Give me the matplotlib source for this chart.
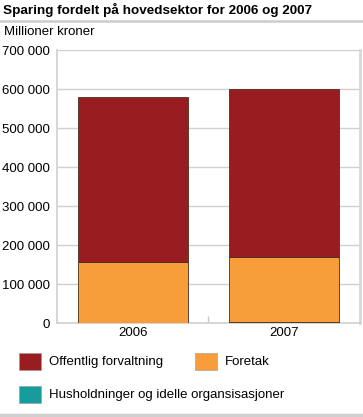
import matplotlib
matplotlib.use('Agg')
import matplotlib.pyplot as plt
from matplotlib.patches import Rectangle
from matplotlib.ticker import FuncFormatter, FixedLocator
import numpy as np

plt.rcParams['font.family'] = ['Liberation Sans', 'DejaVu Sans']

# data (millioner kroner)
years = ['2006', '2007']
offentlig = [423000, 431000]
foretak = [158000, 166000]
husholdninger = [0, 4000]
labels = ['Offentlig forvaltning', 'Foretak', 'Husholdninger og idelle organsisasjoner']
colors = ['#991c20', '#f79d3a', '#169c9c']

fig = plt.figure(figsize=(3.63, 4.17), dpi=100)
ax = fig.add_axes([57.3 / 363, 1 - 323.3 / 417, 302.4 / 363, 273.0 / 417])

x = np.arange(len(years))
w = 0.725
edge = '#4a3020'
hh = np.array(husholdninger)
fo = np.array(foretak)
of = np.array(offentlig)
ax.bar(x, hh, w, color=colors[2], edgecolor=edge, linewidth=0.6, zorder=3)
ax.bar(x, fo, w, bottom=hh, color=colors[1], edgecolor=edge, linewidth=0.6, zorder=3)
ax.bar(x, of, w, bottom=hh + fo, color=colors[0], edgecolor=edge, linewidth=0.6, zorder=3)

ax.set_xlim(-0.5, len(years) - 0.5)
ax.set_ylim(0, 700000)
ax.set_yticks(np.arange(0, 700001, 100000))
ax.yaxis.set_major_formatter(FuncFormatter(lambda v, p: f'{int(v):,}'.replace(',', ' ')))
ax.set_xticks(x)
ax.set_xticklabels(years)
ax.xaxis.set_minor_locator(FixedLocator([0.5]))
ax.tick_params(axis='both', which='major', length=0, labelsize=9.5, colors='black')
ax.tick_params(axis='y', pad=5)
ax.tick_params(axis='x', pad=3)
ax.tick_params(axis='x', which='minor', direction='in', length=5, color='#c8c8c8', width=1)
ax.grid(axis='y', color='#d0d0d0', linewidth=1, zorder=0)
ax.set_axisbelow(True)
for s in ['left', 'bottom']:
    ax.spines[s].set_color('#d0d0d0')
    ax.spines[s].set_linewidth(1.2)
ax.spines['right'].set_color('#d8d8d8')
ax.spines['right'].set_linewidth(2)
ax.spines['top'].set_visible(False)

# title, unit label and rules
fig.text(3 / 363, 1 - 10 / 417, 'Sparing fordelt på hovedsektor for 2006 og 2007',
         fontsize=9.7, fontweight='bold', va='center', ha='left')
fig.add_artist(plt.Line2D([0, 1], [1 - 21 / 417] * 2, color='#cccccc', linewidth=1.8))
fig.text(4 / 363, 1 - 32 / 417, 'Millioner kroner', fontsize=9.5, va='center', ha='left')
fig.add_artist(plt.Line2D([0, 1], [1 - 414.5 / 417] * 2, color='#d0d0d0', linewidth=2.5))

# legend
legend_pos = [(19, 353), (195, 353), (19, 386)]
for (lx, ly), lab, c in zip(legend_pos, labels, colors):
    fig.add_artist(Rectangle((lx / 363, 1 - (ly + 17) / 417), 22 / 363, 17 / 417,
                             facecolor=c, edgecolor='#9a9a9a', linewidth=0.4,
                             transform=fig.transFigure))
    fig.text((lx + 30) / 363, 1 - (ly + 9) / 417, lab, fontsize=9.5, va='center', ha='left')

fig.savefig('out.png', dpi=100)
